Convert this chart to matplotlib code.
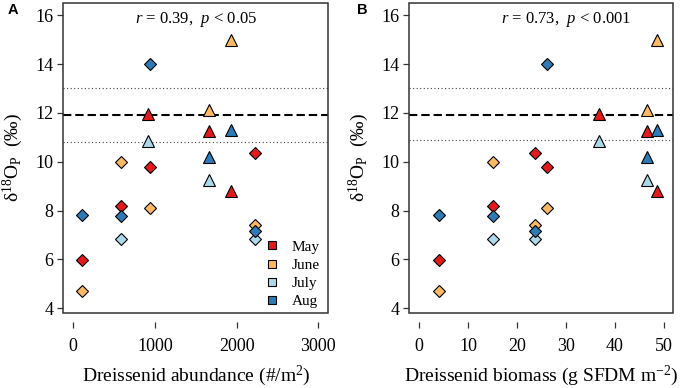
import numpy as np
import matplotlib
matplotlib.use("Agg")
import matplotlib.pyplot as plt
from matplotlib.lines import Line2D
from matplotlib.patches import Rectangle

plt.rcParams['font.family'] = ['Liberation Serif', 'DejaVu Serif']
plt.rcParams['mathtext.fontset'] = 'custom'
plt.rcParams['mathtext.rm'] = 'Liberation Serif'
plt.rcParams['mathtext.it'] = 'Liberation Serif:italic'
plt.rcParams['mathtext.bf'] = 'Liberation Serif:bold'

# ---- data ----
months = ['May', 'June', 'July', 'Aug']
month_colors = ['#E31A1C', '#FDB863', '#ABD9E9', '#2C7BB6']

site_abundance = [103, 580, 939, 918, 1662, 1931, 2229]      # #/m2
site_biomass = [4.08, 15.04, 26.2, 36.7, 46.6, 48.6, 23.7]    # g SFDM m-2
site_kind = ['a', 'a', 'a', 'b', 'b', 'b', 'a']
kind_marker = {'a': 'D', 'b': '^'}

nan = np.nan
d18O_may = [5.99, 8.18, 9.78, 11.95, 11.26, 8.79, 10.36]
d18O_june = [4.70, 9.98, 8.09, nan, 12.13, 15.00, 7.42]
d18O_july = [nan, 6.82, nan, 10.85, 9.27, nan, 6.82]
d18O_aug = [7.80, 7.79, 14.00, nan, 10.19, 11.29, 7.15]
month_values = [d18O_may, d18O_june, d18O_july, d18O_aug]

eq_mean = 11.93
eq_range_A = [10.8, 13.0]
eq_range_B = [10.9, 13.0]

stats_A = r'$r$ = 0.39,  $p$ < 0.05'
stats_B = r'$r$ = 0.73,  $p$ < 0.001'

xticks_A = [0, 1000, 2000, 3000]
xticks_B = [0, 10, 20, 30, 40, 50]
yticks = [4, 6, 8, 10, 12, 14, 16]

# ---- figure ----
W, H = 680, 388
fig = plt.figure(figsize=(W / 100, H / 100), dpi=100)
bottom = 1 - 312.7 / H
height = (312.7 - 3) / H
axA = fig.add_axes([63.3 / W, bottom, (328.3 - 63.3) / W, height])
axB = fig.add_axes([409 / W, bottom, (673.3 - 409) / W, height])

edge = '#333333'


def style(ax, xlim, xticks, eq_range, xlabel):
    ax.set_xlim(*xlim)
    ax.set_ylim(3.82, 16.5)
    ax.set_xticks(xticks)
    ax.set_yticks(yticks)
    for s in ax.spines.values():
        s.set_visible(False)
    ax.spines['bottom'].set_position(('outward', 6.5))
    ax.add_patch(Rectangle((0, 0), 1, 1, transform=ax.transAxes, fill=False,
                           ec=edge, lw=1.1, clip_on=False, zorder=5))
    ax.tick_params(axis='both', direction='out', length=4, width=0.9,
                   color=edge, labelsize=13, pad=3)
    ax.tick_params(axis='x', pad=7.5)
    ax.axhline(eq_mean, color='black', lw=1.5, dashes=(4, 1.9), zorder=1)
    for v in eq_range:
        ax.axhline(v, color='#444444', lw=0.8, dashes=(1, 2.2), zorder=1)
    ax.set_xlabel(xlabel, fontsize=14)
    ax.xaxis.set_label_coords(0.5, -0.165)
    ax.set_ylabel('δ$^{18}$O$_{\\mathrm{P}}$  (‰)', fontsize=14)
    ax.yaxis.set_label_coords(-0.145, 0.5)


def draw_points(ax, xs):
    for i, x in enumerate(xs):
        mk = kind_marker[site_kind[i]]
        ms = 5.9 if mk == 'D' else 8.3
        for m, vals in enumerate(month_values):
            v = vals[i]
            if np.isnan(v):
                continue
            ax.plot([x], [v], marker=mk, ms=ms, mfc=month_colors[m],
                    mec='black', mew=0.8, ls='none', zorder=3)


style(axA, (-122, 3122), xticks_A, eq_range_A,
      'Dreissenid abundance (#/m$^{2}$)')
style(axB, (-2.04, 51.9), xticks_B, eq_range_B,
      'Dreissenid biomass (g SFDM m$^{-2}$)')
draw_points(axA, site_abundance)
draw_points(axB, site_biomass)

axA.text(1500, 15.84, stats_A, ha='center', va='center', fontsize=12)
axB.text(30, 15.84, stats_B, ha='center', va='center', fontsize=12)

handles = [Line2D([], [], marker='s', ms=5.5, mfc=c, mec='black', mew=0.8,
                  ls='none') for c in month_colors]
axA.legend(handles, months, loc='upper left', bbox_to_anchor=(0.757, 0.235),
           frameon=False, fontsize=11, handlelength=1.0, handletextpad=0.8,
           labelspacing=0.3, borderpad=0, borderaxespad=0)

fig.text(8 / W, 1 - 10.5 / H, 'A', fontsize=10.5, fontweight='bold',
         family='Liberation Sans', va='center', ha='left')
fig.text(356.7 / W, 1 - 10 / H, 'B', fontsize=10.5, fontweight='bold',
         family='Liberation Sans', va='center', ha='left')

fig.savefig('out.png', dpi=100)
